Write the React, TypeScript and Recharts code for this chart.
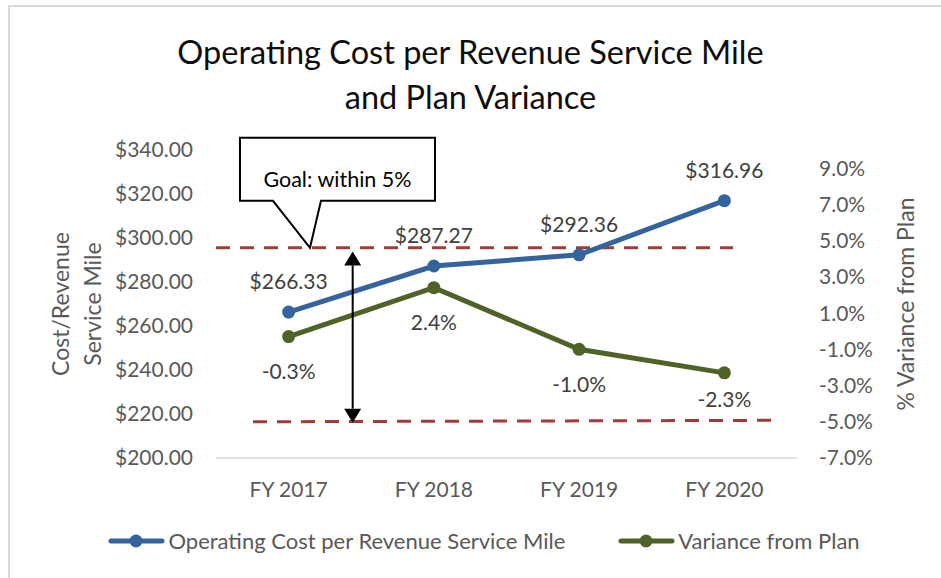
import React from 'react';
import {
    LineChart,
    Line,
    XAxis,
    YAxis,
    ReferenceLine,
    ReferenceDot,
    LabelList,
    Legend,
    Label
} from 'recharts';

const categories = ['FY 2017', 'FY 2018', 'FY 2019', 'FY 2020'];
const costPerMile = [266.33, 287.27, 292.36, 316.96];
const varianceFromPlan = [-0.3, 2.4, -1.0, -2.3];
const costTicks = [200, 220, 240, 260, 280, 300, 320, 340];
const varianceTicks = [-7, -5, -3, -1, 1, 3, 5, 7, 9];

// goal band (% variance), drawn as hand-placed dashed lines in the original
const upperGoal = 4.6;
const lowerGoal = -5.0;

const FONT = 'Lato, "Open Sans", sans-serif';
const TICK_COLOR = '#595959';
const LABEL_COLOR = '#404040';
const BLUE = '#34649b';
const GREEN = '#4f6228';
const RED = '#a33a3a';

const data = categories.map((name, i) => ({
    idx: i,
    name,
    cost: costPerMile[i],
    variance: varianceFromPlan[i]
}));

const GoalCallout = (props: any) => {
    const { cx, cy } = props;
    const left = cx - 70;
    const right = cx + 125;
    const top = cy - 110;
    const bottom = cy - 47;
    const d = `M${left},${top} H${right} V${bottom} H${cx + 11} L${cx},${cy} L${cx - 37},${bottom} H${left} Z`;
    return (
        <g>
            <path d={d} fill="#fff" stroke="#000" strokeWidth={2} />
            <text
                x={cx + 27.5}
                y={cy - 69}
                textAnchor="middle"
                dominantBaseline="central"
                fontFamily={FONT}
                fontSize={21.5}
                fill="#000"
            >
                Goal: within 5%
            </text>
        </g>
    );
};

const DoubleArrow = (props: any) => {
    const { x1, y1, x2, y2 } = props;
    const head = 14;
    return (
        <g>
            <line x1={x1} y1={y1 + head} x2={x2} y2={y2 - head} stroke="#000" strokeWidth={2} />
            <path d={`M${x1},${y1} L${x1 - 8.5},${y1 + head} L${x1 + 8.5},${y1 + head} Z`} fill="#000" />
            <path d={`M${x2},${y2} L${x2 - 8.5},${y2 - head} L${x2 + 8.5},${y2 - head} Z`} fill="#000" />
        </g>
    );
};

const LeftTitle = (props: any) => {
    const { viewBox } = props;
    const edge = viewBox.x + viewBox.width;
    const cy = viewBox.y + viewBox.height / 2;
    const lines = ['Cost/Revenue', 'Service Mile'];
    return (
        <g>
            {lines.map((t, i) => {
                const x = edge - 156 + i * 32;
                return (
                    <text
                        key={t}
                        x={x}
                        y={cy}
                        transform={`rotate(-90, ${x}, ${cy})`}
                        textAnchor="middle"
                        dominantBaseline="central"
                        fontFamily={FONT}
                        fontSize={23}
                        fill={TICK_COLOR}
                    >
                        {t}
                    </text>
                );
            })}
        </g>
    );
};

const RightTitle = (props: any) => {
    const { viewBox } = props;
    const x = viewBox.x + 108;
    const cy = viewBox.y + viewBox.height / 2;
    return (
        <text
            x={x}
            y={cy}
            transform={`rotate(-90, ${x}, ${cy})`}
            textAnchor="middle"
            dominantBaseline="central"
            fontFamily={FONT}
            fontSize={23}
            fill={TICK_COLOR}
        >
            % Variance from Plan
        </text>
    );
};

const VarianceLabel = (props: any) => {
    const { x, y, value, index } = props;
    const offset = index === varianceFromPlan.length - 1 ? 26 : 34;
    return (
        <text
            x={x}
            y={y + offset}
            textAnchor="middle"
            dominantBaseline="central"
            fontFamily={FONT}
            fontSize={21}
            fill={LABEL_COLOR}
        >
            {`${Number(value).toFixed(1)}%`}
        </text>
    );
};

const renderLegend = (props: any) => {
    const { payload } = props;
    return (
        <div
            style={{
                display: 'flex',
                justifyContent: 'center',
                gap: 53,
                paddingLeft: 27,
                fontFamily: FONT,
                fontSize: 22,
                color: TICK_COLOR
            }}
        >
            {payload.map((entry: any) => (
                <div key={entry.value} style={{ display: 'flex', alignItems: 'center' }}>
                    <svg width={57} height={16}>
                        <line x1={3} y1={8} x2={54} y2={8} stroke={entry.color} strokeWidth={5} strokeLinecap="round" />
                        <circle cx={28} cy={8} r={6.5} fill={entry.color} />
                    </svg>
                    <span style={{ marginLeft: 3 }}>{entry.value}</span>
                </div>
            ))}
        </div>
    );
};

export default function App() {
    return (
        <div style={{ position: 'fixed', left: 0, top: 0, width: 941, height: 578, overflow: 'hidden', background: '#fff' }}>
            <div
                style={{
                    position: 'absolute',
                    left: 8,
                    top: 5,
                    width: 1000,
                    height: 1000,
                    border: '2px solid #d9d9d9'
                }}
            />
            <div
                style={{
                    position: 'absolute',
                    left: 0,
                    top: 29,
                    width: 941,
                    textAlign: 'center',
                    fontFamily: FONT,
                    fontSize: 32.5,
                    lineHeight: '45px',
                    color: '#0d0d0d'
                }}
            >
                Operating Cost per Revenue Service Mile
                <br />
                and Plan Variance
            </div>
            <div style={{ position: 'absolute', left: 0, top: 0 }}>
                <LineChart width={941} height={578} data={data} margin={{ top: 150, right: 10, bottom: 60, left: 10 }}>
                    <XAxis
                        type="number"
                        dataKey="idx"
                        domain={[-0.5, 3.5]}
                        ticks={[0, 1, 2, 3]}
                        interval={0}
                        tickFormatter={(i: number) => categories[i]}
                        axisLine={{ stroke: '#d9d9d9', strokeWidth: 1.5 }}
                        tickLine={false}
                        tickMargin={18}
                        height={60}
                        tick={{ fill: TICK_COLOR, fontSize: 21, fontFamily: FONT }}
                    />
                    <YAxis
                        yAxisId="left"
                        domain={[200, 340]}
                        ticks={costTicks}
                        interval={0}
                        tickFormatter={(v: number) => `$${v.toFixed(2)}`}
                        axisLine={false}
                        tickLine={false}
                        tickMargin={17}
                        width={206}
                        tick={{ fill: TICK_COLOR, fontSize: 21, fontFamily: FONT }}
                    >
                        <Label content={<LeftTitle />} />
                    </YAxis>
                    <YAxis
                        yAxisId="right"
                        orientation="right"
                        domain={[-7, 10]}
                        ticks={varianceTicks}
                        interval={0}
                        tickFormatter={(v: number) => `${v.toFixed(1)}%`}
                        axisLine={false}
                        tickLine={false}
                        tickMargin={16}
                        width={134}
                        tick={{ fill: TICK_COLOR, fontSize: 21, fontFamily: FONT }}
                    >
                        <Label content={<RightTitle />} />
                    </YAxis>

                    <Legend
                        layout="horizontal"
                        verticalAlign="middle"
                        align="center"
                        content={renderLegend}
                        wrapperStyle={{ top: 527, left: 0, width: 941 }}
                    />

                    <ReferenceLine
                        yAxisId="right"
                        segment={[{ x: -0.5, y: upperGoal }, { x: 3.06, y: upperGoal }]}
                        stroke={RED}
                        strokeWidth={3}
                        strokeDasharray="14 10"
                        ifOverflow="visible"
                    />
                    <ReferenceLine
                        yAxisId="right"
                        segment={[{ x: -0.245, y: lowerGoal }, { x: 3.35, y: lowerGoal + 0.08 }]}
                        stroke={RED}
                        strokeWidth={3}
                        strokeDasharray="14 10"
                        ifOverflow="visible"
                    />

                    <Line
                        yAxisId="left"
                        type="linear"
                        dataKey="cost"
                        name="Operating Cost per Revenue Service Mile"
                        stroke={BLUE}
                        strokeWidth={5}
                        dot={{ r: 6.5, fill: BLUE, stroke: BLUE, strokeWidth: 0 }}
                        activeDot={false}
                        isAnimationActive={false}
                    >
                        <LabelList
                            dataKey="cost"
                            position="top"
                            offset={23}
                            fill={LABEL_COLOR}
                            fontSize={21}
                            fontFamily={FONT}
                            formatter={(v: any) => `$${Number(v).toFixed(2)}`}
                        />
                    </Line>
                    <Line
                        yAxisId="right"
                        type="linear"
                        dataKey="variance"
                        name="Variance from Plan"
                        stroke={GREEN}
                        strokeWidth={5}
                        dot={{ r: 6.5, fill: GREEN, stroke: GREEN, strokeWidth: 0 }}
                        activeDot={false}
                        isAnimationActive={false}
                    >
                        <LabelList dataKey="variance" content={<VarianceLabel />} />
                    </Line>

                    <ReferenceLine
                        yAxisId="right"
                        segment={[{ x: 0.441, y: upperGoal - 0.2 }, { x: 0.441, y: lowerGoal - 0.05 }]}
                        shape={<DoubleArrow />}
                        ifOverflow="visible"
                    />
                    <ReferenceDot
                        yAxisId="right"
                        x={0.147}
                        y={upperGoal}
                        shape={<GoalCallout />}
                        ifOverflow="visible"
                    />
                </LineChart>
            </div>
        </div>
    );
}
